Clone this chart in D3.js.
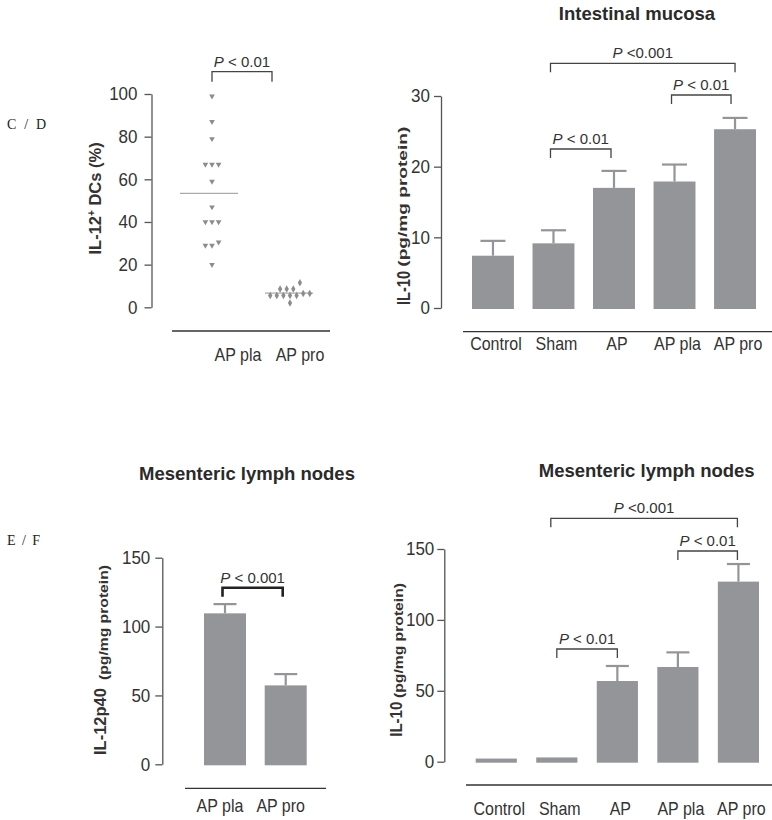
<!DOCTYPE html>
<html><head><meta charset="utf-8">
<script src="https://cdn.jsdelivr.net/npm/d3@7"></script>
<style>
html,body{margin:0;padding:0;background:#fff;}
svg{display:block;font-family:"Liberation Sans",Arial,sans-serif;}
</style></head>
<body>
<svg id="chart" width="772" height="820"></svg>
<script>
// ---------- DATA ----------
const cCategories = ["AP pla", "AP pro"];
const cValuesPla = [99, 87, 79, 67, 67, 67, 59, 47, 40, 40, 40, 29, 29, 30.5, 20];
const cValuesPro = [8.6, 8.6, 8.6, 11.5, 6.5, 6.5, 5.5, 5.5, 5.5, 5.5, 5.5, 2];
const cTicks = [0, 20, 40, 60, 80, 100];

const dCategories = ["Control", "Sham", "AP", "AP pla", "AP pro"];
const dMeans = [7.4, 9.15, 17.0, 17.9, 25.3];
const dErrors = [2.1, 1.85, 2.4, 2.4, 1.6];
const dTicks = [0, 10, 20, 30];

const eCategories = ["AP pla", "AP pro"];
const eMeans = [109.6, 57.3];
const eErrors = [6.7, 8.2];
const eTicks = [0, 50, 100, 150];

const fCategories = ["Control", "Sham", "AP", "AP pla", "AP pro"];
const fMeans = [2.2, 3, 56.9, 66.8, 127];
const fErrors = [0, 0, 10.6, 10.3, 12.4];
const fTicks = [0, 50, 100, 150];

// ---------- STYLE ----------
const BAR = "#939598";
const AXIS = "#555";
const TXT = "#333";
const svg = d3.select("#chart");

// vertical stretch of a text around its own baseline point
function vstretch(sel, k) {
  sel.each(function () {
    const t = d3.select(this);
    const x = +t.attr("x") || 0, y = +t.attr("y") || 0;
    t.attr("transform", `translate(${x},${y}) scale(1,${k}) translate(${-x},${-y})`);
  });
}

function styleAxis(g, fs) {
  g.select(".domain").attr("stroke", AXIS).attr("stroke-width", 1.3);
  g.selectAll(".tick line").attr("stroke", AXIS).attr("stroke-width", 1.3);
  const tt = g.selectAll(".tick text").attr("fill", TXT).style("font-size", fs + "px")
    .style("font-family", "'Liberation Sans',Arial,sans-serif");
  tt.attr("transform", "scale(1,1.1)");
}

function pText(g, cx, y, txt) {
  const t = g.append("text").attr("x", cx).attr("y", y).attr("text-anchor", "middle")
    .attr("fill", TXT).style("font-size", "15px");
  t.append("tspan").attr("font-style", "italic").text("P");
  t.append("tspan").text(txt);
}

function bracket(g, x1, x2, top, drop, txt, sw, col) {
  g.append("path").attr("d", `M${x1},${top + drop}V${top}H${x2}V${top + drop}`)
    .attr("fill", "none").attr("stroke", col).attr("stroke-width", sw);
  pText(g, (x1 + x2) / 2, top - 5, txt);
}

function yLabel(g, o) {
  g.append("text").attr("transform", `translate(${o.x},${o.y0}) rotate(-90)`)
    .attr("fill", TXT).attr("font-weight", "bold").style("font-size", o.fs + "px")
    .attr("textLength", o.len).attr("lengthAdjust", "spacingAndGlyphs").text(o.main);
  g.append("text").attr("transform", `translate(${o.sx},${o.sy0}) rotate(-90)`)
    .attr("fill", TXT).attr("font-weight", "bold").style("font-size", o.sfs + "px")
    .attr("textLength", o.slen).attr("lengthAdjust", "spacingAndGlyphs").text("(pg/mg protein)");
}

function barPanel(o) {
  const g = svg.append("g");
  const x = d3.scaleBand().domain(o.cats).range(o.xr).paddingInner(o.pad).paddingOuter(0);
  const y = d3.scaleLinear().domain(o.dom).range(o.yr);
  const bw = x.bandwidth();
  const ax = g.append("g").attr("transform", `translate(${o.ax},0)`)
    .call(d3.axisLeft(y).tickValues(o.ticks).tickSize(7).tickPadding(o.tp).tickSizeOuter(0));
  styleAxis(ax, 17);
  const data = o.cats.map((c, i) => ({ c, m: o.means[i], e: o.errs[i] }));
  data.filter(d => d.e > 0).forEach(d => {
    const cx = x(d.c) + bw / 2;
    g.append("line").attr("x1", cx).attr("x2", cx).attr("y1", y(d.m)).attr("y2", y(d.m + d.e))
      .attr("stroke", BAR).attr("stroke-width", 2.2);
    g.append("line").attr("x1", cx - o.cap / 2).attr("x2", cx + o.cap / 2)
      .attr("y1", y(d.m + d.e)).attr("y2", y(d.m + d.e))
      .attr("stroke", BAR).attr("stroke-width", 2.2);
  });
  g.selectAll("rect.bar").data(data).join("rect").attr("class", "bar")
    .attr("x", d => x(d.c)).attr("width", bw)
    .attr("y", d => y(d.m)).attr("height", d => y(0) - y(d.m) + 1)
    .attr("fill", BAR);
  g.append("line").attr("x1", o.rule[0]).attr("x2", o.rule[1]).attr("y1", o.ruleY).attr("y2", o.ruleY)
    .attr("stroke", "#333").attr("stroke-width", 1.3);
  const labs = g.selectAll("text.cat").data(o.cats).join("text").attr("class", "cat")
    .attr("x", d => x(d) + bw / 2 + o.labDx).attr("y", o.labY).attr("text-anchor", "middle")
    .attr("fill", TXT).style("font-size", "16px").text(d => d);
  vstretch(labs, 1.15);
  g.append("text").attr("x", o.titleX).attr("y", o.titleY).attr("text-anchor", "middle")
    .attr("fill", "#2a2a2a").attr("font-weight", "bold").style("font-size", "18.5px").text(o.title);
  o.brackets.forEach(b => {
    const x1 = x(b.a) + bw / 2 + b.d1, x2 = x(b.b) + bw / 2 + b.d2;
    bracket(g, x1, x2, b.top, b.drop, b.txt, b.sw || 1.3, b.col || "#444");
  });
  return { g, x, y };
}

function panelTag(txt, y, len) {
  svg.append("text").attr("x", 7).attr("y", y).attr("fill", "#222")
    .style("font-family", "'Liberation Serif','Times New Roman',serif").style("font-size", "14px")
    .attr("textLength", len).attr("lengthAdjust", "spacing").text(txt);
}

// ---------- PANEL C (scatter) ----------
(function () {
  const g = svg.append("g");
  const y = d3.scaleLinear().domain([0, 100]).range([307.3, 94]);
  const x = d3.scalePoint().domain(cCategories).range([212, 290]);
  const ax = g.append("g").attr("transform", "translate(151.5,0)")
    .call(d3.axisLeft(y).tickValues(cTicks).tickSize(7).tickPadding(7).tickSizeOuter(0));
  styleAxis(ax, 17);

  function clusters(vals) {
    const s = vals.slice().sort((a, b) => b - a);
    const out = [];
    s.forEach(v => {
      const last = out[out.length - 1];
      if (last && last[0] - v <= 3) last.push(v); else out.push([v]);
    });
    const pts = [];
    out.forEach(cl => {
      cl.sort((a, b) => a - b);
      cl.forEach((v, i) => pts.push({ v, off: (i - (cl.length - 1) / 2) * 6.6 }));
    });
    return pts;
  }
  const tri = d3.symbol().type(d3.symbolTriangle).size(14);
  const dia = d3.symbol().type(d3.symbolDiamond).size(16);
  [[cCategories[0], cValuesPla, -32, 26], [cCategories[1], cValuesPro, -25, 23]].forEach(([c, vals, l, r]) => {
    const m = d3.mean(vals);
    g.append("line").attr("x1", x(c) + l).attr("x2", x(c) + r).attr("y1", y(m)).attr("y2", y(m))
      .attr("stroke", "#aaa").attr("stroke-width", 1.2);
  });
  g.selectAll("path.pla").data(clusters(cValuesPla)).join("path").attr("class", "pla")
    .attr("d", tri).attr("fill", "#8c8c8c")
    .attr("transform", d => `translate(${x(cCategories[0]) + d.off},${y(d.v)}) rotate(180)`);
  g.selectAll("path.pro").data(clusters(cValuesPro)).join("path").attr("class", "pro")
    .attr("d", dia).attr("fill", "#8c8c8c")
    .attr("transform", d => `translate(${x(cCategories[1]) + d.off},${y(d.v)})`);
  g.append("line").attr("x1", 172).attr("x2", 330).attr("y1", 331).attr("y2", 331)
    .attr("stroke", "#333").attr("stroke-width", 1.3);
  const labs = g.selectAll("text.cat").data(cCategories).join("text").attr("class", "cat")
    .attr("x", d => x(d) + (d === cCategories[0] ? 26 : 10)).attr("y", 361).attr("text-anchor", "middle")
    .attr("fill", TXT).style("font-size", "16px").text(d => d);
  vstretch(labs, 1.15);
  bracket(g, x(cCategories[0]), x(cCategories[1]) - 18, 71.7, 10, " < 0.01", 1.3, "#444");
  const t = g.append("text").attr("transform", "translate(100.5,198.4) rotate(-90)")
    .attr("text-anchor", "middle").attr("fill", TXT).attr("font-weight", "bold").style("font-size", "16.5px");
  t.append("tspan").text("IL-12");
  t.append("tspan").attr("dy", -6).style("font-size", "10px").text("+");
  t.append("tspan").attr("dy", 6).text(" DCs (%)");
  panelTag("C / D", 128.5, 39);
})();

// ---------- PANEL D ----------
(function () {
  const p = barPanel({
    cats: dCategories, means: dMeans, errs: dErrors, ticks: dTicks,
    xr: [472, 756], pad: 0.307, dom: [0, 30], yr: [308, 96], ax: 441, tp: 4, cap: 25,
    rule: [463, 772], ruleY: 331.7, labY: 350, labDx: 3,
    title: "Intestinal mucosa", titleX: 637, titleY: 20,
    brackets: [
      { a: "Sham", b: "AP pro", d1: -3, d2: 0, top: 63.3, drop: 9, txt: " <0.001" },
      { a: "AP pla", b: "AP pro", d1: -3, d2: -4, top: 95, drop: 9, txt: " < 0.01" },
      { a: "Sham", b: "AP", d1: -3, d2: -3, top: 149, drop: 9, txt: " < 0.01" }
    ]
  });
  yLabel(p.g, { x: 410, y0: 305, fs: 19, len: 34, main: "IL-10", sx: 407, sy0: 266.7, sfs: 12.5, slen: 140 });
})();

// ---------- PANEL E ----------
(function () {
  const p = barPanel({
    cats: eCategories, means: eMeans, errs: eErrors, ticks: eTicks,
    xr: [204, 306.7], pad: 0.308, dom: [0, 150], yr: [764.3, 557.7], ax: 162.3, tp: 5, cap: 23,
    rule: [185, 326], ruleY: 788.3, labY: 811.7, labDx: -5,
    title: "Mesenteric lymph nodes", titleX: 247, titleY: 480,
    brackets: [
      { a: "AP pla", b: "AP pro", d1: -2.5, d2: -3, top: 587.7, drop: 9, txt: " < 0.001", sw: 2.6, col: "#222" }
    ]
  });
  yLabel(p.g, { x: 106, y0: 755, fs: 16.5, len: 67, main: "IL-12p40", sx: 108, sy0: 680, sfs: 12.5, slen: 115 });
  panelTag("E / F", 545, 33);
})();

// ---------- PANEL F ----------
(function () {
  const p = barPanel({
    cats: fCategories, means: fMeans, errs: fErrors, ticks: fTicks,
    xr: [475.7, 759], pad: 0.32, dom: [0, 150], yr: [761.7, 549], ax: 444.3, tp: 3, cap: 23,
    rule: [466, 772], ruleY: 785, labY: 815, labDx: 3,
    title: "Mesenteric lymph nodes", titleX: 646.7, titleY: 476.7,
    brackets: [
      { a: "Sham", b: "AP pro", d1: -6, d2: -1, top: 518.3, drop: 9, txt: " <0.001" },
      { a: "AP pla", b: "AP pro", d1: 0, d2: -1, top: 551, drop: 9, txt: " < 0.01" },
      { a: "Sham", b: "AP", d1: 0, d2: 0, top: 649, drop: 9, txt: " < 0.01" }
    ]
  });
  yLabel(p.g, { x: 402, y0: 736.7, fs: 17, len: 35, main: "IL-10", sx: 403, sy0: 698, sfs: 12.5, slen: 115 });
})();
</script>
</body></html>
